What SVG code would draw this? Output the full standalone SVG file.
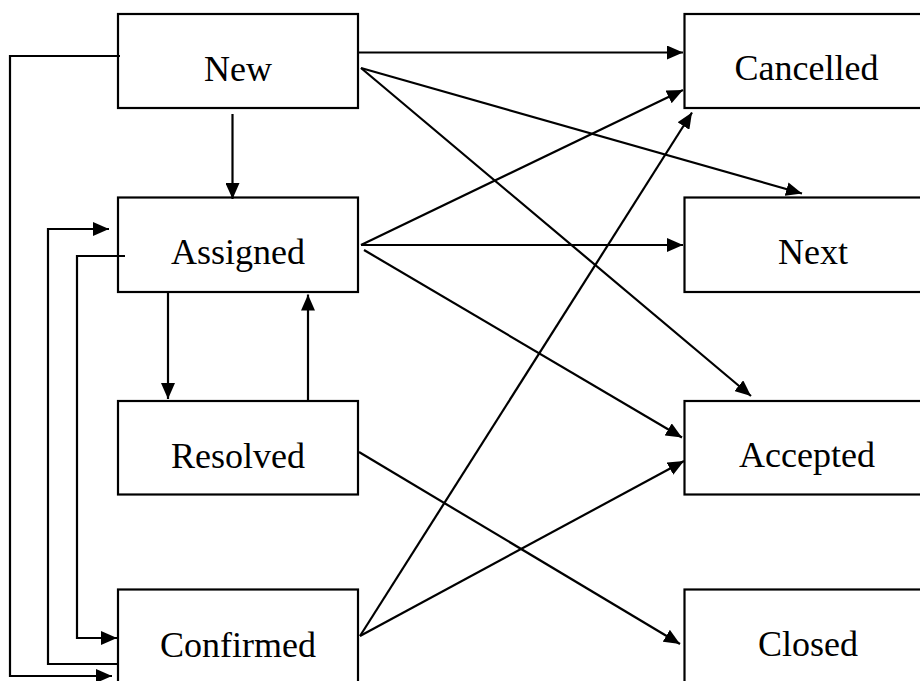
<svg xmlns="http://www.w3.org/2000/svg" width="920" height="681" viewBox="0 0 920 681">
  <style>
    .box { fill: #ffffff; stroke: #000000; stroke-width: 2.2; }
    .label { font-family: "Liberation Serif", "Times New Roman", serif; font-size: 36px; fill: #000000; text-anchor: middle; }
    .edge { fill: none; stroke: #000000; stroke-width: 2.2; marker-end: url(#arrow); }
  </style>
  <defs>
    <marker id="arrow" markerUnits="userSpaceOnUse" markerWidth="16" markerHeight="14" refX="16" refY="7" orient="auto">
      <path d="M0,0 L16,7 L0,14 z" fill="#000000"/>
    </marker>
  </defs>
  <rect width="920" height="681" fill="#ffffff"/>

  <!-- left column -->
  <g id="node-new">
    <rect class="box" x="118" y="14" width="240" height="94"/>
    <text class="label" x="238" y="80.5">New</text>
  </g>
  <g id="node-assigned">
    <rect class="box" x="118" y="197.5" width="240" height="94.5"/>
    <text class="label" x="238" y="264">Assigned</text>
  </g>
  <g id="node-resolved">
    <rect class="box" x="118" y="401" width="240" height="93.5"/>
    <text class="label" x="238" y="467.5">Resolved</text>
  </g>
  <g id="node-confirmed">
    <rect class="box" x="118" y="589.5" width="240" height="100"/>
    <text class="label" x="238" y="656.5">Confirmed</text>
  </g>

  <!-- right column -->
  <g id="node-cancelled">
    <rect class="box" x="684.5" y="14" width="245" height="94"/>
    <text class="label" x="806.5" y="80">Cancelled</text>
  </g>
  <g id="node-next">
    <rect class="box" x="684.5" y="197.5" width="245" height="94.5"/>
    <text class="label" x="813" y="264">Next</text>
  </g>
  <g id="node-accepted">
    <rect class="box" x="684.5" y="401" width="245" height="93.5"/>
    <text class="label" x="807" y="467">Accepted</text>
  </g>
  <g id="node-closed">
    <rect class="box" x="684.5" y="589.5" width="245" height="100"/>
    <text class="label" x="808" y="656">Closed</text>
  </g>

  <g id="connectors">
    <!-- vertical links -->
    <path class="edge" d="M232.5,114 V199"/>
    <path class="edge" d="M168,293 V399"/>
    <path class="edge" d="M308,401 V294.5"/>
    <!-- loops on the left -->
    <path class="edge" d="M120,56 H10 V676 H112"/>
    <path class="edge" d="M125,256 H77 V638 H117"/>
    <path class="edge" d="M117,664 H48 V229 H109"/>
    <!-- to the right column -->
    <path class="edge" d="M358,52.5 L683,52.5"/>
    <path class="edge" d="M361,68 L802,193.5"/>
    <path class="edge" d="M361,68 L751,396"/>
    <path class="edge" d="M361,245 L683,90"/>
    <path class="edge" d="M361,245 L683,245"/>
    <path class="edge" d="M364,250 L682,437.5"/>
    <path class="edge" d="M359,452 L680,644"/>
    <path class="edge" d="M360,636 L692,112.5"/>
    <path class="edge" d="M360,636 L684,461"/>
  </g>
</svg>
